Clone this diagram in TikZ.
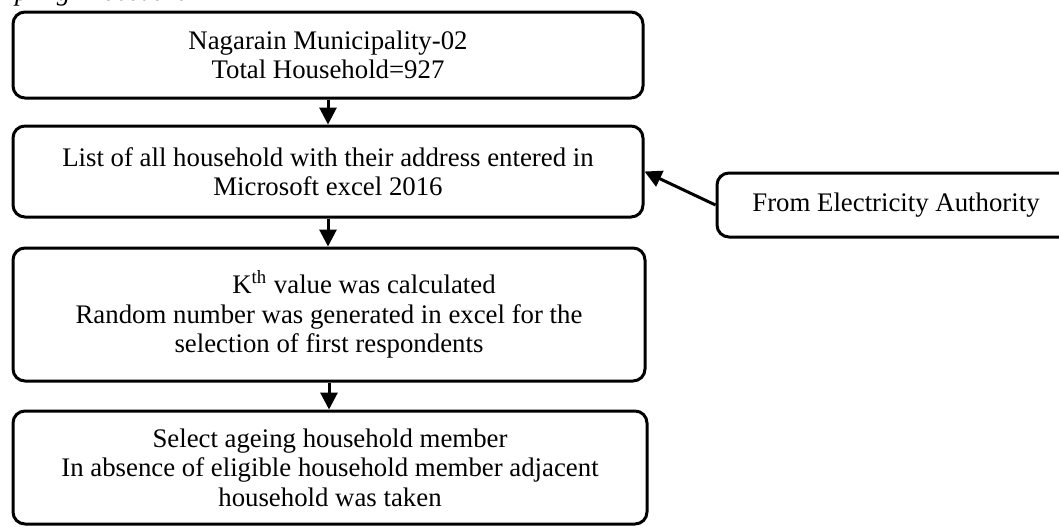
\documentclass[tikz,border=0pt]{standalone}
\usepackage{fontspec}
\setmainfont{Liberation Serif}
\usetikzlibrary{arrows.meta}
\begin{document}
\begin{tikzpicture}[x=0.5pt,y=-0.5pt,
  box/.style={draw, line width=1.5pt, rounded corners=6pt, align=center,
    inner sep=0pt, font=\fontsize{13.4}{14.75}\selectfont},
  arr/.style={line width=1.5pt, -{Triangle[length=8.5pt,width=8.5pt]}}]
\useasboundingbox (0,0) rectangle (1059,526);
\node[anchor=base west, font=\fontsize{13.4}{14.75}\selectfont\itshape] (title) at (-38,0) {Sampling Procedure};
\node[box, minimum width=315pt, minimum height=43pt] (b1) at (328,55)
  {Nagarain Municipality-02\\Total Household=927};
\node[box, minimum width=315pt, minimum height=45.5pt] (b2) at (328,171.5)
  {List of all household with their address entered in\\Microsoft excel 2016};
\node[box, minimum width=179pt, minimum height=32pt] (b3) at (896,205)
  {From Electricity Authority};
\node[box, minimum width=316pt, minimum height=66.5pt] (b4) at (329,314.5)
  {\hspace*{35pt}K\textsuperscript{th} value was calculated\\Random number was generated in excel for the\\selection of first respondents};
\node[box, minimum width=317pt, minimum height=56.5pt] (b5) at (330,467.5)
  {Select ageing household member\\In absence of eligible household member adjacent\\household was taken};
\draw[arr] (b1.south) -- (b1.south |- b2.north);
\draw[arr] (b2.south) -- (b2.south |- b4.north);
\draw[arr] (b4.south) -- (b4.south |- b5.north);
\draw[arr] (b3.west) -- (b2.east);
\end{tikzpicture}
\end{document}
